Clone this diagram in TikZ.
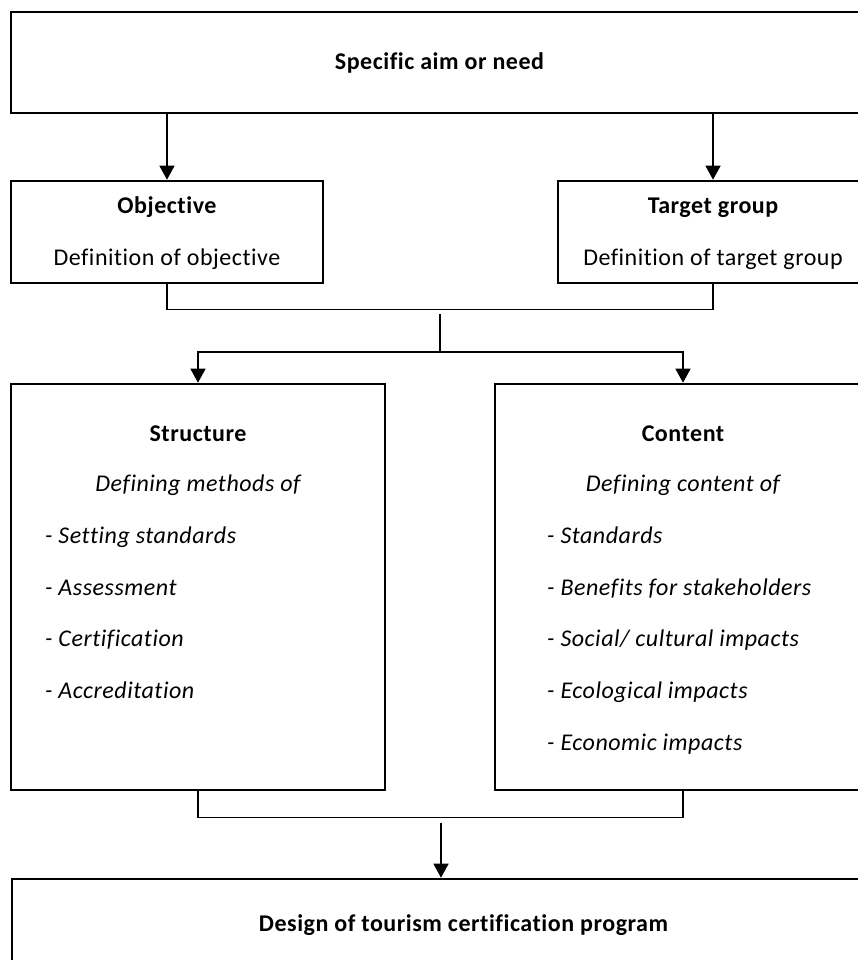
\documentclass[tikz,border=0pt]{standalone}
\usepackage{fontspec}
\setmainfont{Carlito}[Ligatures={NoCommon}, LetterSpace=2.2]
\usetikzlibrary{arrows.meta}
\newcommand{\labelsize}{\fontsize{24}{27}\selectfont}
\tikzset{
  box/.style={draw, line width=2.6pt, inner sep=0pt, minimum width=#1},
  head/.style={font=\labelsize\bfseries, anchor=base, inner sep=0pt},
  plain/.style={font=\labelsize, anchor=base, inner sep=0pt},
  lead/.style={font=\labelsize\itshape, anchor=base, inner sep=0pt},
  item/.style={font=\labelsize\itshape, anchor=base west, inner sep=0pt},
  bracketline/.style={line width=1.3pt},
  flow/.style={line width=1.4pt, -{Triangle[width=15pt,length=14pt]}}
}
\begin{document}
\begin{tikzpicture}[x=1pt, y=-1pt]
\useasboundingbox (0,0) rectangle (858,960);
\clip (0,0) rectangle (858,960);

% boxes
\node[box=857pt, minimum height=101pt] (aim) at (439.5,62.5) {};
\node[box=312pt, minimum height=102pt] (obj) at (167,232) {};
\node[box=310pt, minimum height=102pt] (tgt) at (713,232) {};
\node[box=374pt, minimum height=406pt] (str) at (198,587) {};
\node[box=376pt, minimum height=406pt] (con) at (683,587) {};
\node[box=902pt, minimum height=110pt] (des) at (463,934) {};

% texts
\node[head] (aimT) at (439.5,69.3) {Specific aim or need};
\node[head] (objT) at (167,213) {Objective};
\node[plain] (objD) at (167,265) {Definition of objective};
\node[head] (tgtT) at (713,213) {Target group};
\node[plain] (tgtD) at (713,265) {Definition of target group};

\node[head] (strT) at (198,441.7) {Structure};
\node[lead] (strD) at (198,491.7) {Defining methods of};
\node[item] (s1) at (45,543.3) {- Setting standards};
\node[item] (s2) at (45,595) {- Assessment};
\node[item] (s3) at (45,646.7) {- Certification};
\node[item] (s4) at (45,698.3) {- Accreditation};

\node[head] (conT) at (683,441.7) {Content};
\node[lead] (conD) at (683,491.7) {Defining content of};
\node[item] (c1) at (547,543.3) {- Standards};
\node[item] (c2) at (547,595) {- Benefits for stakeholders};
\node[item] (c3) at (547,646.7) {- Social/ cultural impacts};
\node[item] (c4) at (547,698.3) {- Ecological impacts};
\node[item] (c5) at (547,750) {- Economic impacts};

\node[head] (desT) at (463.5,931) {Design of tourism certification program};

% junction points
\coordinate (j1) at (440,314);
\coordinate (j2) at (440,352);
\coordinate (j3) at (441,823);

% connectors
\draw[flow] (aim.south -| obj.north) -- (obj.north);
\draw[flow] (aim.south -| tgt.north) -- (tgt.north);
\draw[bracketline] (obj.south) -- ++(0,25) -| (tgt.south);
\draw[bracketline] (j1) -- (j2);
\draw[flow] (j2) -| (str.north);
\draw[flow] (j2) -| (con.north);
\draw[bracketline] (str.south) -- ++(0,26) -| (con.south);
\draw[flow] (j3) -- (j3 |- des.north);
\end{tikzpicture}
\end{document}
